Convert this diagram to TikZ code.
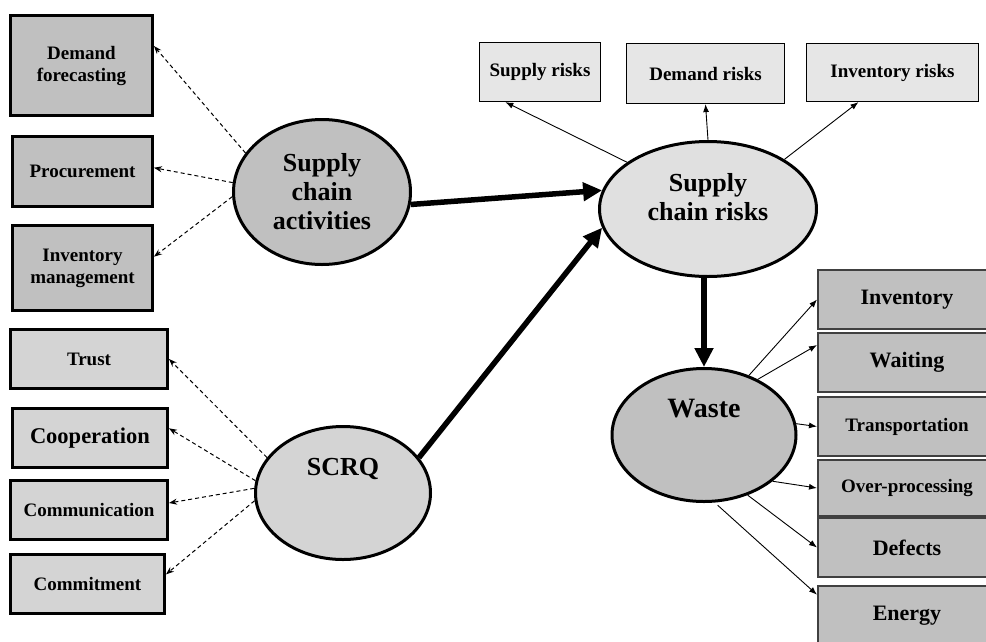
\documentclass[tikz,border=0pt]{standalone}
\usepackage{fontspec}
\setmainfont{Liberation Serif}
\usetikzlibrary{arrows.meta,shapes.geometric,positioning}

\definecolor{boxfill}{HTML}{C0C0C0}
\definecolor{midfill}{HTML}{D4D4D4}
\definecolor{palefill}{HTML}{E6E6E6}
\definecolor{edgegray}{HTML}{404040}

\begin{document}
\begin{tikzpicture}[x=1pt,y=-1pt,
        indic/.style={rectangle, draw, line width=3pt, align=center, font=\bfseries\fontsize{19}{22}\selectfont},
        riskbox/.style={rectangle, draw, line width=1.2pt, fill=palefill, font=\bfseries\fontsize{19}{22}\selectfont},
        wastebox/.style={rectangle, draw=edgegray, line width=2pt, fill=boxfill, minimum width=178pt, minimum height=59pt, font=\bfseries\fontsize{22}{26}\selectfont},
        latent/.style={ellipse, draw, line width=3pt, align=center, inner sep=2pt, font=\bfseries\fontsize{26}{29}\selectfont},
        dashlink/.style={-{Stealth[length=8pt,width=6pt]}, line width=1pt, dash pattern=on 4pt off 3pt},
        thinlink/.style={-{Latex[length=8pt,width=6pt]}, line width=0.9pt},
        boldlink/.style={-{Triangle[length=19pt,width=18pt]}, line width=5.5pt}]
        \useasboundingbox (0,0) rectangle (986,641);
        \clip (0,0) rectangle (986,641);

        \node[latent, fill=boxfill, minimum width=177pt, minimum height=145pt] (sca) at (322,192) {Supply\\chain\\activities};
        \node[latent, fill=midfill, minimum width=175pt, minimum height=133pt, text depth=52pt] (scrq) at (343,493) {SCRQ};
        \node[latent, fill=palefill!85!boxfill, minimum width=217pt, minimum height=135pt, text depth=25pt] (scr) at (708,209) {Supply\\chain risks};
        \node[latent, fill=boxfill, minimum width=184pt, minimum height=133pt, text depth=54pt, font=\bfseries\fontsize{28}{32}\selectfont] (waste) at (704,435) {Waste};

        \node[indic, fill=boxfill, minimum width=142pt, minimum height=100pt] (df) at (81.5,65.5) {Demand\\forecasting};
        \node[indic, fill=boxfill, minimum width=140pt, minimum height=70pt] (proc) at (82.5,171.5) {Procurement};
        \node[indic, fill=boxfill, minimum width=140pt, minimum height=85pt] (invm) at (82.5,268) {Inventory\\management};

        \node[indic, fill=midfill, minimum width=157pt, minimum height=59pt] (trust) at (89,359) {Trust};
        \node[indic, fill=midfill, minimum width=155pt, minimum height=59pt, font=\bfseries\fontsize{22.5}{26}\selectfont] (coop) at (90,438) {Cooperation};
        \node[indic, fill=midfill, minimum width=157pt, minimum height=59pt] (comm) at (89,510) {Communication};
        \node[indic, fill=midfill, minimum width=154pt, minimum height=59pt] (commit) at (87.5,584) {Commitment};

        \node[riskbox, minimum width=121pt, minimum height=59pt] (sr) at (540,72) {Supply risks};
        \node[riskbox, minimum width=158pt, minimum height=60pt] (dr) at (705.5,73.5) {Demand risks};
        \node[riskbox, minimum width=172pt, minimum height=58pt] (ir) at (892.5,72.5) {Inventory risks};

        \node[wastebox] (inv) at (907,299.5) {Inventory};
        \node[wastebox] (wait) at (907,362.5) {Waiting};
        \node[wastebox, font=\bfseries\fontsize{19}{22}\selectfont] (trans) at (907,426.5) {Transportation};
        \node[wastebox, minimum height=56pt, font=\bfseries\fontsize{19}{22}\selectfont] (over) at (907,488) {Over-processing};
        \node[wastebox] (def) at (907,547.5) {Defects};
        \node[wastebox] (energy) at (907,615.5) {Energy};

        \draw[dashlink] (sca.153) -- (df.15);
        \draw[dashlink] (sca.174) -- (proc.3);
        \draw[dashlink] (sca.183) -- (invm.9);

        \draw[dashlink] (scrq.155) -- (trust.east);
        \draw[dashlink] (scrq.172) -- (coop.7);
        \draw[dashlink] (scrq.177) -- (comm.5);
        \draw[dashlink] (scrq.185) -- (commit.7);

        \draw[thinlink] (scr.150) -- (sr.221);
        \draw[thinlink] (scr.north) -- (dr.south);
        \draw[thinlink] (scr.33) -- (ir.221);

        \draw[boldlink] (sca.352) -- (scr.170);
        \draw[boldlink] (scrq.25) -- (scr.190);
        \draw[boldlink] (waste.north |- scr.south) -- (waste.north);

        \draw[thinlink] (waste.53) -- (inv.west);
        \draw[thinlink] (waste.46) -- (wait.169);
        \draw[thinlink] (waste.7) -- (trans.west);
        \draw[thinlink] (waste.326) -- (over.west);
        \draw[thinlink] (waste.306) -- (def.west);
        \draw[thinlink, shorten <=4pt] (waste.279) -- (energy.167);
\end{tikzpicture}
\end{document}
